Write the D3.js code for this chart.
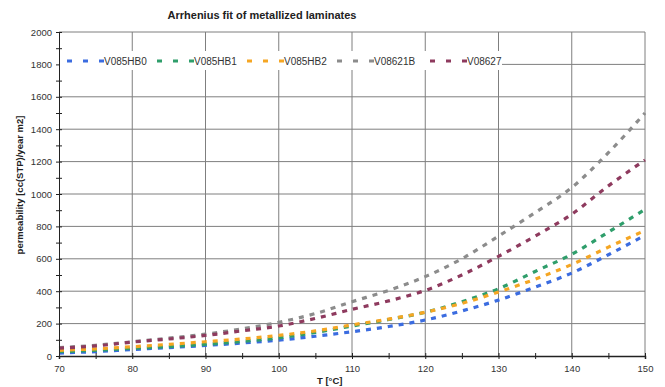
<!DOCTYPE html>
<html>
<head>
<meta charset="utf-8">
<script src="https://cdn.jsdelivr.net/npm/d3@7"></script>
<style>
  body { margin: 0; background: #fff; }
  text { font-family: "Liberation Sans", Arial, sans-serif; }
</style>
</head>
<body>
<script>
// temperatures (°C) and fitted permeability per laminate
var temps = [70, 75, 80, 85, 90, 95, 100, 105, 110, 115, 120, 125, 130, 135, 140, 145, 150];
var hb0   = [18, 27, 40, 52, 65, 80, 98, 122, 150, 182, 222, 278, 345, 425, 512, 625, 745];
var hb1   = [27, 35, 47, 58, 72, 90, 112, 145, 185, 225, 270, 335, 415, 522, 628, 765, 905];
var hb2   = [35, 44, 57, 72, 88, 105, 127, 155, 192, 228, 270, 325, 395, 474, 565, 672, 775];
var b621  = [52, 66, 88, 110, 135, 168, 208, 262, 335, 405, 490, 600, 740, 885, 1040, 1255, 1500];
var b627  = [48, 62, 86, 105, 127, 155, 185, 232, 288, 340, 405, 500, 615, 740, 875, 1050, 1210];

var seriesNames = ["V085HB0", "V085HB1", "V085HB2", "V08621B", "V08627"];
var seriesVals = [hb0, hb1, hb2, b621, b627];
var COLORS = ["#3b6ce0", "#2f9e6b", "#f5a623", "#8c8c8c", "#8e3a5e"];

var xTicks = [70, 80, 90, 100, 110, 120, 130, 140, 150];
var yTicks = [0, 200, 400, 600, 800, 1000, 1200, 1400, 1600, 1800, 2000];

var W = 665, H = 387;
var X0 = 59, X1 = 645, Y0 = 356, Y1 = 32;

var svg = d3.select("body").append("svg")
    .attr("width", W)
    .attr("height", H);

var x = d3.scaleLinear().domain([70, 150]).range([X0, X1]);
var y = d3.scaleLinear().domain([0, 2000]).range([Y0, Y1]);

// grid
svg.append("g").selectAll("line.h")
    .data(yTicks.slice(1))
    .enter().append("line")
    .attr("x1", X0).attr("x2", X1)
    .attr("y1", function(d) { return y(d); })
    .attr("y2", function(d) { return y(d); })
    .style("stroke", "#7f7f7f").style("stroke-width", 1);

svg.append("g").selectAll("line.v")
    .data(xTicks.slice(1))
    .enter().append("line")
    .attr("x1", function(d) { return x(d); })
    .attr("x2", function(d) { return x(d); })
    .attr("y1", Y1).attr("y2", Y0)
    .style("stroke", "#7f7f7f").style("stroke-width", 1);

// series
var line = d3.line()
    .x(function(d) { return x(d[0]); })
    .y(function(d) { return y(d[1]); })
    .curve(d3.curveMonotoneX);

seriesVals.forEach(function(vals, i) {
    svg.append("path")
        .datum(temps.map(function(t, j) { return [t, vals[j]]; }))
        .attr("d", line)
        .style("fill", "none")
        .style("stroke", COLORS[i])
        .style("stroke-width", 3.2)
        .style("stroke-dasharray", "5,6");
});

// axes
var yAxis = svg.append("g")
    .attr("transform", "translate(" + X0 + ",0)")
    .call(d3.axisLeft(y).tickValues(d3.range(0, 2001, 100)).tickSize(3)
        .tickFormat(function(d) { return d % 200 === 0 ? d : ""; }));
yAxis.select(".domain").style("stroke", "#222");
yAxis.selectAll(".tick line").attr("x1", -3).attr("x2", 3).style("stroke", "#222");
yAxis.selectAll(".tick text").attr("x", -7).style("font-size", "9.5px").style("fill", "#333");

var xAxis = svg.append("g")
    .attr("transform", "translate(0," + Y0 + ")")
    .call(d3.axisBottom(x).tickValues(d3.range(70, 151, 5)).tickSize(3)
        .tickFormat(function(d) { return d % 10 === 0 ? d : ""; }));
xAxis.select(".domain").style("stroke", "#222").style("stroke-width", 1.5);
xAxis.selectAll(".tick line").attr("y1", -3).attr("y2", 3).style("stroke", "#222");
xAxis.selectAll(".tick text").attr("y", 9).style("font-size", "9.5px").style("fill", "#333");

// legend
svg.append("rect")
    .attr("x", X0 + 1).attr("y", 51).attr("width", 442).attr("height", 19)
    .style("fill", "#fff");

var legX = [67, 157, 247, 337, 430];
var leg = svg.append("g").selectAll("g")
    .data(seriesNames)
    .enter().append("g")
    .attr("transform", function(d, i) { return "translate(" + legX[i] + ",61)"; });

leg.append("line")
    .attr("x1", 0).attr("x2", 38).attr("y1", 0).attr("y2", 0)
    .style("stroke", function(d, i) { return COLORS[i]; })
    .style("stroke-width", 3.2)
    .style("stroke-dasharray", "5,11");

leg.append("text")
    .attr("x", 37).attr("y", 3.5)
    .style("font-size", "10px").style("fill", "#333")
    .text(function(d) { return d; });

// titles
svg.append("text")
    .attr("x", 262).attr("y", 19)
    .attr("text-anchor", "middle")
    .style("font-size", "11px").style("font-weight", "bold").style("fill", "#222")
    .text("Arrhenius fit of metallized laminates");

svg.append("text")
    .attr("transform", "translate(23,185) rotate(-90)")
    .attr("text-anchor", "middle")
    .style("font-size", "9.5px").style("font-weight", "bold").style("fill", "#222")
    .text("permeability [cc(STP)/year m2]");

svg.append("text")
    .attr("x", 317).attr("y", 384)
    .style("font-size", "9.5px").style("font-weight", "bold").style("fill", "#222")
    .text("T [°C]");
</script>
</body>
</html>
